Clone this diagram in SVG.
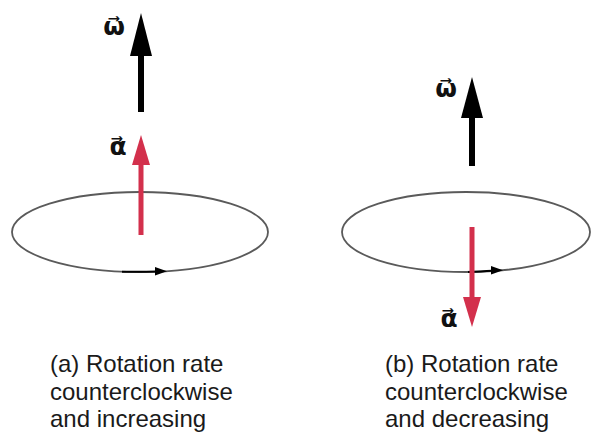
<svg xmlns="http://www.w3.org/2000/svg" width="592" height="434" viewBox="0 0 592 434">
<style>
.orbit{fill:none;stroke:#5a5a5a;stroke-width:1.8}
.blk{fill:#000}
.red{fill:#d3304c}
.lbl{font-family:"DejaVu Sans",sans-serif;font-weight:bold;font-size:25px;fill:#111}
.cap{font-family:"Liberation Sans",Arial,sans-serif;font-size:24px;fill:#1a1a1a}
.dir{fill:none;stroke:#000;stroke-width:2}
</style>
<rect width="592" height="434" fill="#fff"/>
<g id="panel-a">
  <g id="orbit-a">
    <ellipse class="orbit" cx="140" cy="232" rx="128" ry="40"/>
    <path class="dir" d="M122,271.7 Q140,272 157,271.5"/>
    <polygon class="blk" points="167,271.2 155,267 155,275.5"/>
  </g>
  <g id="omega-a">
    <rect class="blk" x="138" y="52" width="6" height="60"/>
    <polygon class="blk" points="141,13 130,56 152,56"/>
    <text class="lbl" x="114" y="35" text-anchor="middle">ω⃗</text>
  </g>
  <g id="alpha-a">
    <rect class="red" x="138.5" y="162" width="5" height="73"/>
    <polygon class="red" points="141,135 132,165 150,165"/>
    <text class="lbl" x="118" y="155" text-anchor="middle">α⃗</text>
  </g>
  <g id="caption-a">
    <text class="cap" x="50" y="372">(a) Rotation rate</text>
    <text class="cap" x="50" y="400">counterclockwise</text>
    <text class="cap" x="50" y="427">and increasing</text>
  </g>
</g>
<g id="panel-b">
  <g id="orbit-b">
    <ellipse class="orbit" cx="466" cy="232" rx="124" ry="40"/>
    <path class="dir" d="M468,272 Q482,271.5 492,270.8"/>
    <polygon class="blk" points="503,270.3 491,266 491,274.5"/>
  </g>
  <g id="omega-b">
    <rect class="blk" x="469" y="114" width="6" height="52"/>
    <polygon class="blk" points="472,77 461,118 483,118"/>
    <text class="lbl" x="446" y="97" text-anchor="middle">ω⃗</text>
  </g>
  <g id="alpha-b">
    <rect class="red" x="469.5" y="227" width="5" height="72"/>
    <polygon class="red" points="472,327 463,297 481,297"/>
    <text class="lbl" x="449" y="327" text-anchor="middle">α⃗</text>
  </g>
  <g id="caption-b">
    <text class="cap" x="385" y="372">(b) Rotation rate</text>
    <text class="cap" x="385" y="400">counterclockwise</text>
    <text class="cap" x="385" y="427">and decreasing</text>
  </g>
</g>
</svg>
